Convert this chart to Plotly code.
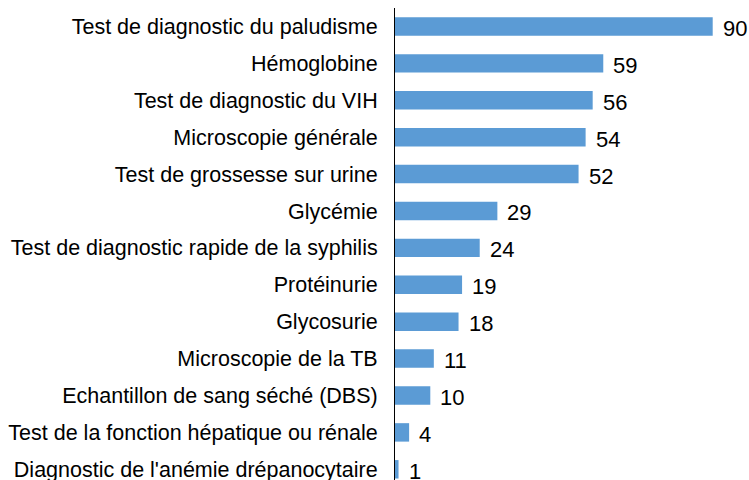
import plotly.graph_objects as go

categories = [
    "Test de diagnostic du paludisme",
    "Hémoglobine",
    "Test de diagnostic du VIH",
    "Microscopie générale",
    "Test de grossesse sur urine",
    "Glycémie",
    "Test de diagnostic rapide de la syphilis",
    "Protéinurie",
    "Glycosurie",
    "Microscopie de la TB",
    "Echantillon de sang séché (DBS)",
    "Test de la fonction hépatique ou rénale",
    "Diagnostic de l'anémie drépanocytaire",
]
values = [90, 59, 56, 54, 52, 29, 24, 19, 18, 11, 10, 4, 1]

fig = go.Figure()
fig.add_trace(go.Bar(
    x=values, y=categories, orientation="h",
    marker=dict(color="#5B9BD5", line=dict(width=0)),
    hoverinfo="x+y",
))
for c, v in zip(categories, values):
    fig.add_annotation(x=v, y=c, text=str(v), showarrow=False,
                       xanchor="left", xshift=8, yshift=-2,
                       font=dict(size=22, color="#000000"))

fig.update_layout(
    width=749, height=480,
    margin=dict(l=395, r=1, t=8, b=0, autoexpand=False),
    paper_bgcolor="white", plot_bgcolor="white",
    font=dict(family="Liberation Sans, Arial, sans-serif", color="#000000"),
    bargap=0.5,
    showlegend=False,
    xaxis=dict(range=[0, 100], visible=False, showgrid=False, zeroline=False),
    yaxis=dict(
        range=[12.29, -0.5], type="category", automargin=False,
        showline=True, linecolor="#000000", linewidth=1,
        ticks="", showgrid=False, zeroline=False,
        tickfont=dict(size=21.5, color="#000000"),
        ticklabelstandoff=12,
    ),
)
fig.write_html(
    "out.html",
    config={"displayModeBar": False},
    post_script="document.documentElement.style.overflow='hidden';"
                "document.body.style.margin='0';document.body.style.overflow='hidden';",
)
